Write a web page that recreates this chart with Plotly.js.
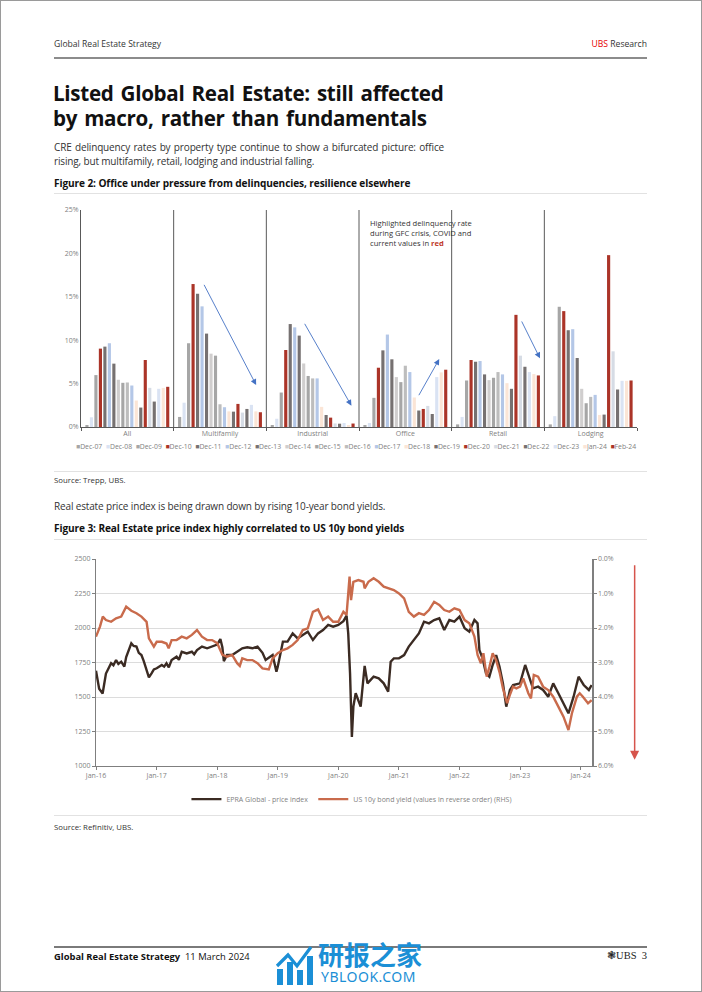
<!DOCTYPE html>
<html>
<head>
<meta charset="utf-8">
<script src="https://cdn.plot.ly/plotly-3.0.1.min.js"></script>
<style>
  html, body { margin:0; padding:0; background:#fff; }
  body { width:702px; height:992px; position:relative; overflow:hidden; font-family:"Open Sans", "Noto Sans", sans-serif; color:#222; }
  .abs { position:absolute; white-space:nowrap; }
  .frame { position:absolute; left:0; top:0; width:700px; height:990px; border:1px solid #9a9a9a; box-sizing:content-box; }
  .rule { position:absolute; left:54px; width:593px; }
  .ttl { position:absolute; left:53px; font-size:20.6px; font-weight:700; line-height:22px; color:#111; letter-spacing:-0.3px; word-spacing:2px; white-space:nowrap; }
</style>
</head>
<body>
<div class="frame"></div>

<div class="abs" style="left:54px; top:38px; font-size:8.6px; color:#333;">Global Real Estate Strategy</div>
<div class="abs" style="right:55px; top:38px; font-size:8.6px; color:#333;"><span style="color:#e60000;">UBS</span> Research</div>
<div class="rule" style="top:57px; height:2px; background:#8c8c8c;"></div>

<div class="ttl" style="top:82px;">Listed Global Real Estate: still affected</div>
<div class="ttl" style="top:107px;">by macro, rather than fundamentals</div>

<div class="abs" style="left:54px; top:141px; width:390px; white-space:normal; font-size:10px; line-height:13.5px; color:#333; text-align:justify; letter-spacing:-0.15px;">CRE delinquency rates by property type continue to show a bifurcated picture: office rising, but multifamily, retail, lodging and industrial falling.</div>

<div class="abs" style="left:54px; top:176px; font-size:10.1px; font-weight:700; color:#111; letter-spacing:-0.1px;">Figure 2: Office under pressure from delinquencies, resilience elsewhere</div>
<div class="rule" style="top:193px; height:1px; background:#e2e2e2;"></div>

<div id="fig2" style="position:absolute; left:54px; top:197px; width:593px; height:275px;"></div>

<div class="rule" style="top:471px; height:1px; background:#e2e2e2;"></div>
<div class="abs" style="left:54px; top:475px; font-size:7.8px; font-weight:400; color:#333;">Source: Trepp, UBS.</div>

<div class="abs" style="left:54px; top:499px; font-size:10px; color:#333; letter-spacing:-0.15px;">Real estate price index is being drawn down by rising 10-year bond yields.</div>

<div class="abs" style="left:54px; top:521px; font-size:10.1px; font-weight:700; color:#111; letter-spacing:-0.1px;">Figure 3: Real Estate price index highly correlated to US 10y bond yields</div>
<div class="rule" style="top:539px; height:1px; background:#e2e2e2;"></div>

<div id="fig3" style="position:absolute; left:54px; top:542px; width:593px; height:290px;"></div>

<div class="rule" style="top:815px; height:1px; background:#e2e2e2;"></div>
<div class="abs" style="left:54px; top:822px; font-size:7.8px; font-weight:400; color:#333;">Source: Refinitiv, UBS.</div>

<div class="rule" style="top:946px; height:2px; background:#7a7a7a;"></div>
<div class="abs" style="left:54px; top:950px; font-size:9.4px; color:#111;"><b>Global Real Estate Strategy</b>&nbsp; 11 March 2024</div>
<div class="abs" style="right:55px; top:949px; font-size:10.5px; color:#222; font-family:'Liberation Serif', serif;">&#10051;UBS&nbsp; 3</div>

<svg class="abs" style="left:275px; top:943px;" width="40" height="43" viewBox="0 0 40 43">
  <rect x="2" y="26" width="6" height="16" fill="#1b8fd6"/>
  <rect x="12" y="19" width="6" height="23" fill="#1b8fd6"/>
  <rect x="22" y="27" width="6" height="15" fill="#1b8fd6"/>
  <rect x="32" y="13" width="6" height="29" fill="#1b8fd6"/>
  <polyline points="2,23 13,12 22,23 36,4" fill="none" stroke="#1b8fd6" stroke-width="3.2"/>
</svg>
<div class="abs" style="left:318px; top:940px; font-size:26px; font-weight:700; color:#1b8fd6; font-family:'Noto Sans CJK SC', sans-serif; line-height:27px;">研报之家</div>
<div class="abs" style="left:321px; top:969px; font-size:14px; color:#1b8fd6; font-family:'Noto Sans', sans-serif; letter-spacing:0.5px; line-height:16px;">YBLOOK.COM</div>

<script>
// ---------- Figure 2 data: CRE delinquency rates (%) ----------
var propertyTypes = ["All", "Multifamily", "Industrial", "Office", "Retail", "Lodging"];
var periods = ["Dec-07","Dec-08","Dec-09","Dec-10","Dec-11","Dec-12","Dec-13","Dec-14","Dec-15","Dec-16",
               "Dec-17","Dec-18","Dec-19","Dec-20","Dec-21","Dec-22","Dec-23","Jan-24","Feb-24"];
var periodColors = ["#a6a6a6","#dae3f3","#a6a6a6","#ab3428","#767171","#b4c7e7","#767171","#d0cece","#a6a6a6","#bdbdbd",
                    "#b4c7e7","#fbe5d6","#767171","#ab3428","#d6dce5","#767171","#dae3f3","#fbe5d6","#ab3428"];
var allRates         = [0.23,1.12,5.98,9.03,9.26,9.65,7.30,5.44,5.09,5.13,4.78,3.05,2.24,7.72,4.51,2.93,4.40,4.50,4.63];
var multifamilyRates = [1.16,2.80,9.65,16.47,15.35,13.90,10.76,8.45,8.22,2.62,2.28,1.80,1.77,2.66,1.66,2.08,2.55,1.80,1.70];
var industrialRates  = [0.23,0.95,3.97,8.87,11.86,11.48,10.53,7.32,5.88,5.60,5.60,2.32,1.38,1.08,0.41,0.38,0.46,0.23,0.40];
var officeRates      = [0.23,0.46,3.36,6.83,8.83,10.65,7.80,5.75,5.17,7.06,6.33,3.40,1.90,2.08,2.43,1.50,5.75,6.29,6.60];
var retailRates      = [0.30,1.16,5.36,7.72,7.52,7.60,6.06,5.40,5.67,6.33,6.06,5.05,4.40,12.92,8.22,6.94,6.33,6.10,5.94];
var lodgingRates     = [0.30,1.25,13.85,13.35,11.15,11.27,7.95,4.40,2.74,3.47,3.70,1.39,1.43,19.80,8.72,4.32,5.32,5.32,5.36];
var groupRates = [allRates, multifamilyRates, industrialRates, officeRates, retailRates, lodgingRates];
var yTicks2 = [0,5,10,15,20,25];

// ---------- Figure 3 data ----------
var epraDates = ["2016-01-01","2016-01-20","2016-02-10","2016-02-20","2016-03-01","2016-04-01","2016-04-15","2016-05-01","2016-05-15","2016-06-01",
"2016-06-20","2016-07-01","2016-07-20","2016-08-01","2016-08-15","2016-09-01","2016-09-15","2016-10-01","2016-10-15","2016-11-01",
"2016-11-15","2016-12-01","2016-12-15","2017-01-01","2017-02-01","2017-02-15","2017-03-01","2017-03-15","2017-04-01","2017-05-01",
"2017-05-15","2017-06-01","2017-07-01","2017-08-01","2017-08-15","2017-09-01","2017-10-01","2017-11-01","2017-12-01","2018-01-01",
"2018-01-20","2018-02-01","2018-02-10","2018-03-01","2018-04-01","2018-05-01","2018-06-01","2018-07-01","2018-08-01","2018-09-01",
"2018-10-01","2018-10-20","2018-11-01","2018-12-01","2018-12-24","2019-01-01","2019-02-01","2019-03-01","2019-04-01","2019-05-01",
"2019-06-01","2019-07-01","2019-08-01","2019-09-01","2019-10-01","2019-11-01","2019-12-01","2020-01-01","2020-02-01","2020-02-20",
"2020-03-01","2020-03-12","2020-03-23","2020-04-01","2020-04-15","2020-05-01","2020-05-15","2020-06-08","2020-06-25","2020-08-01",
"2020-09-01","2020-10-01","2020-10-28","2020-11-12","2020-12-01","2021-01-01","2021-02-01","2021-03-01","2021-04-01","2021-05-01",
"2021-06-01","2021-07-01","2021-08-01","2021-09-01","2021-10-01","2021-11-01","2021-12-01","2022-01-01","2022-02-01","2022-03-01",
"2022-04-01","2022-04-20","2022-05-01","2022-05-20","2022-06-10","2022-06-30","2022-07-20","2022-08-10","2022-08-30","2022-09-20",
"2022-10-10","2022-11-01","2022-11-20","2023-01-01","2023-02-01","2023-03-01","2023-03-20","2023-04-20","2023-05-20","2023-06-20",
"2023-07-20","2023-08-20","2023-09-20","2023-10-20","2023-11-20","2023-12-20","2024-01-20","2024-02-20","2024-03-08"];
var epraIndex = [1690,1560,1525,1600,1670,1745,1730,1768,1740,1756,
1720,1790,1860,1889,1870,1865,1820,1804,1760,1684,
1642,1671,1700,1708,1732,1720,1744,1715,1768,1792,
1770,1828,1816,1828,1810,1840,1865,1853,1865,1880,
1920,1860,1760,1804,1804,1828,1853,1860,1853,1865,
1820,1768,1780,1804,1684,1720,1901,1901,1961,1925,
1949,1973,1913,1961,1985,2022,2010,2022,2050,2090,
1961,1671,1210,1430,1527,1478,1430,1725,1599,1647,
1635,1599,1539,1756,1780,1780,1804,1865,1913,1961,
2046,2034,2058,2070,1985,2058,2046,2082,1998,1973,
2058,2034,1840,1780,1671,1647,1732,1804,1720,1599,
1430,1551,1587,1599,1732,1623,1563,1575,1551,1502,
1599,1527,1454,1382,1502,1647,1587,1551,1587];

var bondDates = ["2016-01-01","2016-01-25","2016-02-11","2016-03-01","2016-04-01","2016-05-01","2016-06-01","2016-07-01","2016-08-01","2016-09-01",
"2016-10-01","2016-11-01","2016-11-15","2016-12-15","2017-01-01","2017-02-01","2017-03-01","2017-03-14","2017-04-01","2017-05-01",
"2017-06-01","2017-07-01","2017-08-01","2017-09-01","2017-10-01","2017-11-01","2017-12-01","2018-01-01","2018-02-01","2018-03-01",
"2018-04-01","2018-05-01","2018-05-17","2018-06-01","2018-07-01","2018-08-01","2018-09-01","2018-10-01","2018-11-08","2018-12-01",
"2019-01-01","2019-02-01","2019-03-01","2019-04-01","2019-05-01","2019-06-01","2019-07-01","2019-08-01","2019-09-01","2019-10-01",
"2019-11-01","2019-12-01","2020-01-01","2020-02-01","2020-02-20","2020-03-09","2020-03-18","2020-04-01","2020-05-01","2020-06-01",
"2020-06-08","2020-07-01","2020-08-01","2020-09-01","2020-10-01","2020-11-01","2020-12-01","2021-01-01","2021-02-01","2021-03-01",
"2021-04-01","2021-05-01","2021-06-01","2021-07-01","2021-08-01","2021-09-01","2021-10-01","2021-11-01","2021-12-01","2022-01-01",
"2022-02-01","2022-03-01","2022-04-01","2022-04-20","2022-05-10","2022-05-25","2022-06-14","2022-07-01","2022-07-20","2022-08-10",
"2022-09-01","2022-09-20","2022-10-15","2022-11-01","2022-11-20","2022-12-10","2023-01-01","2023-01-20","2023-02-20","2023-03-08",
"2023-03-25","2023-04-20","2023-05-20","2023-06-20","2023-07-20","2023-08-20","2023-09-20","2023-10-20","2023-11-10","2023-12-10",
"2023-12-27","2024-01-15","2024-02-15","2024-03-08"];
var bondYield = [2.25,1.96,1.67,1.77,1.82,1.72,1.67,1.38,1.50,1.57,
1.67,1.82,2.30,2.54,2.40,2.40,2.45,2.59,2.35,2.35,
2.25,2.30,2.20,2.06,2.25,2.35,2.35,2.44,2.78,2.83,
2.78,3.02,3.10,2.88,2.93,2.93,3.02,3.17,3.20,2.88,
2.73,2.64,2.59,2.49,2.35,2.06,2.01,1.53,1.46,1.77,
1.67,1.82,1.82,1.53,1.62,0.51,1.19,0.66,0.61,0.66,
0.85,0.66,0.56,0.66,0.80,0.85,0.90,1.00,1.14,1.53,
1.67,1.57,1.62,1.48,1.24,1.33,1.48,1.53,1.43,1.48,
1.77,1.86,2.25,2.78,3.02,2.73,3.41,3.12,2.73,2.93,
3.31,3.75,4.18,3.94,3.70,3.75,3.70,3.46,3.89,4.04,
3.36,3.41,3.70,3.80,3.99,4.28,4.57,4.96,4.47,3.99,
3.89,3.99,4.18,4.09];
var seriesNames = ["EPRA Global - price index", "US 10y bond yield (values in reverse order) (RHS)"];

// ---------- Figure 2 ----------
var axisGrey = "#7f7f7f";
var tickFont = {family:"Open Sans, sans-serif", size:7, color:"#7f7f7f"};

var traces2 = periods.map(function(p, i){
  return {
    type:"bar", name:p, x:propertyTypes,
    y:groupRates.map(function(g){ return g[i]; }),
    marker:{color:periodColors[i], line:{width:0}},
    hoverinfo:"x+y+name", showlegend:false
  };
});

var legendText = periods.map(function(p, i){
  return '<span style="color:' + periodColors[i] + '">■</span>' + p;
}).join('  ');

var separators = [0.5,1.5,2.5,3.5,4.5].map(function(b){
  return {type:"line", xref:"x", yref:"paper", x0:b, x1:b, y0:0, y1:1, line:{color:"#595959", width:1}};
});

function arrow(xTail, yTail, xHead, yHead){
  return {xref:"x", yref:"y", axref:"x", ayref:"y", x:xHead, y:yHead, ax:xTail, ay:yTail,
          showarrow:true, arrowhead:2, arrowsize:1.3, arrowwidth:0.9, arrowcolor:"#4472c4", text:""};
}

var layout2 = {
  margin:{l:27, r:10, t:13, b:45},
  paper_bgcolor:"rgba(0,0,0,0)", plot_bgcolor:"rgba(0,0,0,0)",
  barmode:"group", bargap:0.08, bargroupgap:0.3,
  font:{family:"Open Sans, sans-serif"},
  xaxis:{type:"category", showline:true, linecolor:"#595959", linewidth:1, ticks:"outside", ticklen:3,
         tickcolor:"#595959", tickson:"boundaries", tickfont:tickFont, showgrid:false, zeroline:false,
         range:[-0.5, 5.5]},
  yaxis:{range:[0,25], tickvals:yTicks2, ticktext:yTicks2.map(function(v){return v+"%";}),
         showgrid:false, zeroline:false, showline:true, linecolor:"#595959", linewidth:1,
         ticks:"", tickfont:tickFont},
  shapes:separators,
  annotations:[
    arrow(0.82,16.55,1.39,4.84),
    arrow(1.905,12.06,2.418,2.45),
    arrow(3.137,3.49,3.366,7.83),
    arrow(4.248,12.33,4.453,7.91),
    {xref:"x", yref:"y", x:2.6, y:24.3, xanchor:"left", yanchor:"top", align:"left", showarrow:false,
     font:{size:7.6, color:"#333", family:"Open Sans, sans-serif"},
     text:'Highlighted delinquency rate<br>during GFC crisis, COVID and<br>current values in <b><span style="color:#c0392b">red</span></b>'},
    {xref:"paper", yref:"paper", x:0.495, y:-0.088, xanchor:"center", yanchor:"middle", showarrow:false,
     font:{size:6.85, color:"#7f7f7f", family:"Open Sans, sans-serif"}, text:legendText}
  ],
  showlegend:false
};
Plotly.newPlot("fig2", traces2, layout2, {displayModeBar:false, staticPlot:true});

// ---------- Figure 3 ----------
var yTicks3 = [1000,1250,1500,1750,2000,2250,2500];
var traces3 = [
  {type:"scatter", mode:"lines", name:seriesNames[0], x:epraDates, y:epraIndex,
   line:{color:"#3b2b23", width:2.4}, yaxis:"y"},
  {type:"scatter", mode:"lines", name:seriesNames[1], x:bondDates, y:bondYield,
   line:{color:"#c96b4c", width:2.4}, yaxis:"y2"}
];
var layout3 = {
  margin:{l:42, r:55, t:17, b:66},
  paper_bgcolor:"rgba(0,0,0,0)", plot_bgcolor:"rgba(0,0,0,0)",
  font:{family:"Open Sans, sans-serif"},
  xaxis:{type:"date", range:["2016-01-01","2024-03-10"], tick0:"2016-01-01", dtick:"M12", tickformat:"%b-%y",
         showline:true, linecolor:axisGrey, ticks:"outside", ticklen:3, tickcolor:axisGrey,
         showgrid:false, tickfont:tickFont},
  yaxis:{range:[1000,2500], tickvals:yTicks3, showgrid:true, gridcolor:"#dcdcdc", gridwidth:1,
         showline:true, linecolor:axisGrey, ticks:"outside", ticklen:3, tickcolor:axisGrey,
         zeroline:false, tickfont:tickFont},
  yaxis2:{overlaying:"y", side:"right", range:[6,0], dtick:1, tickformat:".1f", ticksuffix:"%",
          showgrid:false, showline:true, linecolor:axisGrey, linewidth:1.5, ticks:"outside", ticklen:3,
          tickcolor:axisGrey, zeroline:false, tickfont:tickFont},
  showlegend:true,
  legend:{orientation:"h", x:0.516, xanchor:"center", y:-0.16, yanchor:"middle",
          font:{size:7, color:"#7f7f7f", family:"Open Sans, sans-serif"}, itemwidth:30, tracegroupgap:0},
  annotations:[
    {xref:"paper", yref:"paper", x:1.086, y:0.03, ax:0, ay:-196, showarrow:true,
     arrowhead:2, arrowsize:1.2, arrowwidth:1.5, arrowcolor:"#d6544c", text:""}
  ]
};
Plotly.newPlot("fig3", traces3, layout3, {displayModeBar:false, staticPlot:true});
</script>
</body>
</html>
